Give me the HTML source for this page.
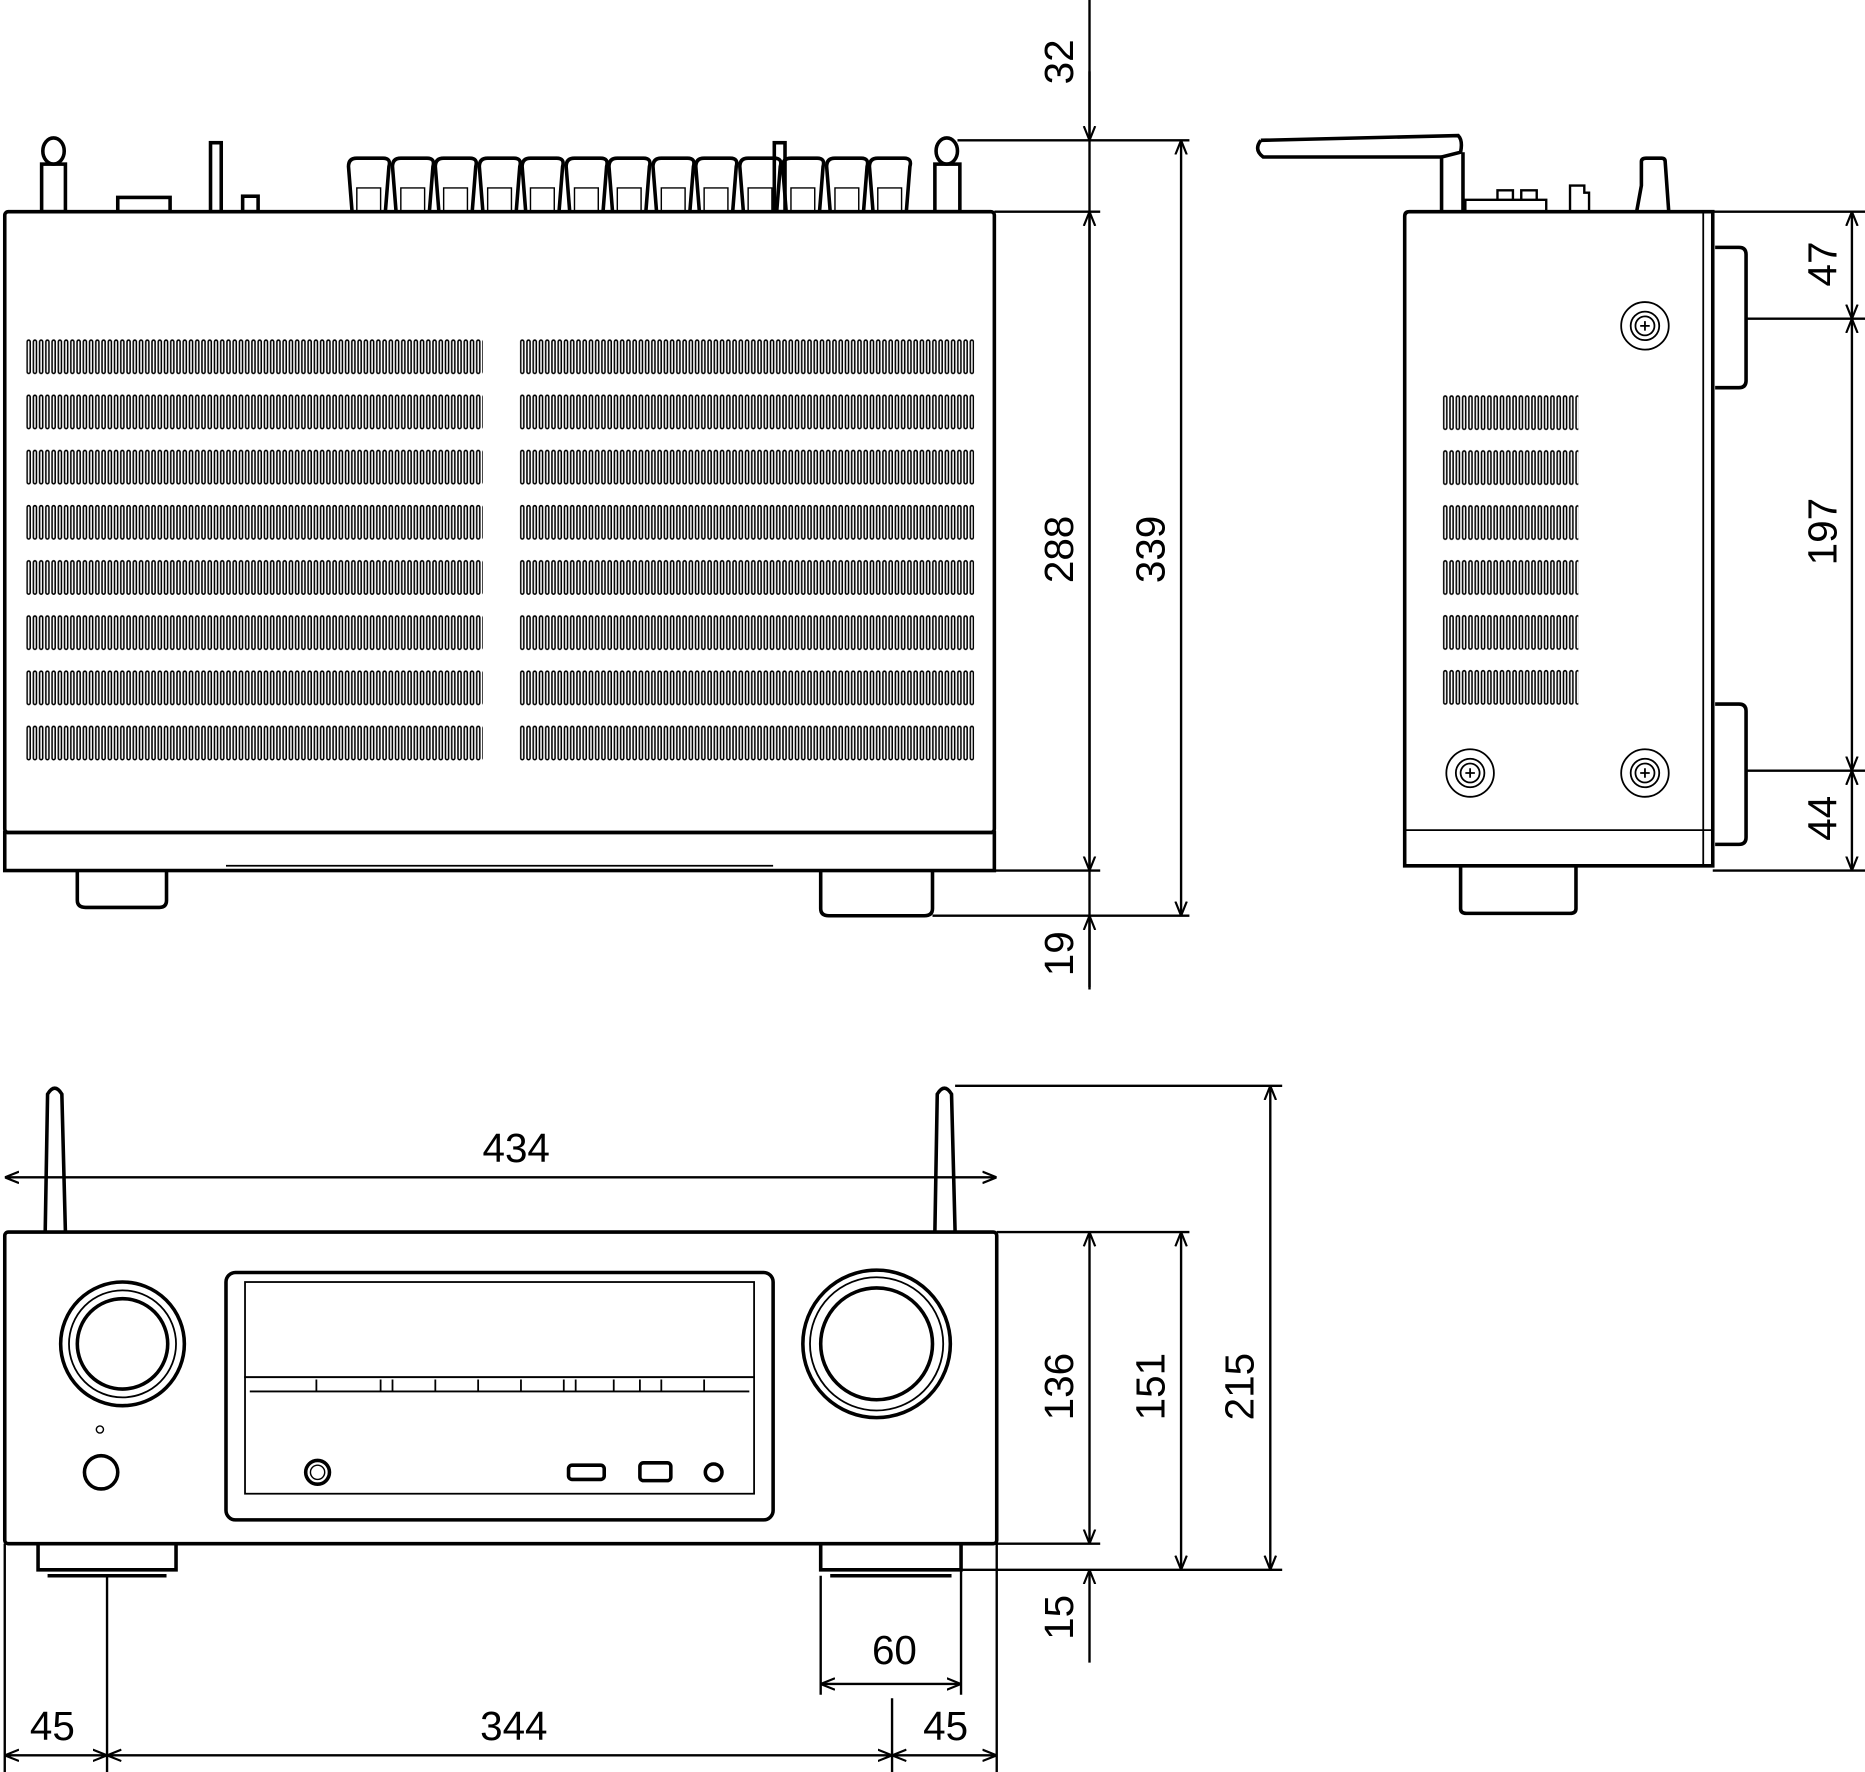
<!DOCTYPE html>
<html><head><meta charset="utf-8"><style>
html,body{margin:0;padding:0;background:#fff;}
svg{display:block;}
text{font-family:"Liberation Sans",sans-serif;font-size:34px;fill:#000;}
</style></head><body>
<svg width="1865" height="1772" viewBox="0 0 1568 1490" preserveAspectRatio="none" xmlns="http://www.w3.org/2000/svg">
<defs>
<marker id="a" viewBox="0 0 10 10" refX="10" refY="5" markerWidth="12" markerHeight="12" orient="auto-start-reverse" markerUnits="userSpaceOnUse"><path d="M0,1 L10,5 L0,9" fill="none" stroke="#000" stroke-width="1.5"/></marker>
<pattern id="vA" x="22" y="285" width="5.25" height="46.4" patternUnits="userSpaceOnUse"><rect x="0.8" y="1" width="2.6" height="28" rx="1.3" fill="none" stroke="#000" stroke-width="1.3"/></pattern>
<pattern id="vB" x="437" y="285" width="5.25" height="46.4" patternUnits="userSpaceOnUse"><rect x="0.8" y="1" width="2.6" height="28" rx="1.3" fill="none" stroke="#000" stroke-width="1.3"/></pattern>
<pattern id="vC" x="1213" y="332" width="5.3" height="46.2" patternUnits="userSpaceOnUse"><rect x="0.8" y="1" width="2.6" height="28" rx="1.3" fill="none" stroke="#000" stroke-width="1.3"/></pattern>
</defs>
<g fill="none" stroke="#000" stroke-width="3">
<!-- TOP VIEW -->
<rect x="4" y="178" width="832" height="522" rx="3"/>
<rect x="4" y="700" width="832" height="32"/>
<line x1="190" y1="728" x2="650" y2="728" stroke-width="1.5"/>
<path d="M65 732 V757 Q65 763 72 763 H134 Q140 763 140 757 V732"/>
<path d="M690 732 V764 Q690 770 697 770 H777 Q784 770 784 764 V732"/>
<ellipse cx="45" cy="127" rx="9" ry="11"/>
<rect x="35" y="138" width="20" height="40"/>
<rect x="99" y="166" width="44" height="12"/>
<rect x="177" y="120" width="9" height="58"/>
<rect x="204" y="165" width="13" height="13"/>
<g id="t"><path d="M296 178 L293 140 Q293 133 300 133 H322 Q329 133 327 140 L324 178"/><path d="M300 178 V158 H320 V178" stroke-width="1.2"/></g>
<use href="#t" x="37"/><use href="#t" x="73"/><use href="#t" x="110"/><use href="#t" x="146"/><use href="#t" x="183"/><use href="#t" x="219"/><use href="#t" x="256"/><use href="#t" x="292"/><use href="#t" x="329"/><use href="#t" x="365"/><use href="#t" x="402"/><use href="#t" x="438"/>
<rect x="651" y="120" width="9" height="58"/>
<ellipse cx="796" cy="127" rx="9" ry="11"/>
<rect x="786" y="138" width="21" height="40"/>
<line x1="805" y1="118" x2="1000" y2="118" stroke-width="2"/>
</g>
<rect x="22" y="285" width="384" height="360" fill="url(#vA)"/>
<rect x="437" y="285" width="382" height="360" fill="url(#vB)"/>
<rect x="1213" y="332" width="114" height="262" fill="url(#vC)"/>
<g fill="none" stroke="#000" stroke-width="2">
<line x1="916" y1="0" x2="916" y2="832"/>
<line x1="836" y1="178" x2="925" y2="178"/>
<line x1="836" y1="732" x2="925" y2="732"/>
<line x1="784" y1="770" x2="1000" y2="770"/>
<line x1="916" y1="60" x2="916" y2="118" marker-end="url(#a)"/>
<line x1="916" y1="178" x2="916" y2="732" marker-start="url(#a)" marker-end="url(#a)"/>
<line x1="916" y1="830" x2="916" y2="770" marker-end="url(#a)"/>
<line x1="993" y1="118" x2="993" y2="770" marker-start="url(#a)" marker-end="url(#a)"/>
</g>
<g fill="none" stroke="#000" stroke-width="3">
<!-- SIDE VIEW -->
<path d="M1181 728 V182 Q1181 178 1185 178 H1440 V728 Z"/>
<line x1="1432" y1="178" x2="1432" y2="728" stroke-width="1.5"/>
<line x1="1181" y1="698" x2="1440" y2="698" stroke-width="1.5"/>
<path d="M1228 728 V764 Q1228 768 1233 768 H1320 Q1325 768 1325 764 V728"/>
<path d="M1060 118 L1226 114 Q1230 118 1228 128 L1212 132 V178"/>
<path d="M1060 118 Q1054 126 1062 132 L1212 132"/>
<path d="M1230 128 V178"/>
<path d="M1232 178 V168 H1300 V178 M1259 168 V160 H1272 V168 M1279 168 V160 H1292 V168" stroke-width="2"/>
<path d="M1320 178 V156 H1332 V162 H1336 V178" stroke-width="2"/>
<path d="M1376 178 L1380 156 V136 Q1380 133 1384 133 H1397 Q1400 133 1400 136 L1403 178"/>
<path d="M1440 178 H1568" stroke-width="2"/>
<path d="M1442 208 H1462 Q1468 208 1468 214 V320 Q1468 326 1462 326 H1442"/>
<path d="M1442 592 H1462 Q1468 592 1468 598 V704 Q1468 710 1462 710 H1442"/>
<line x1="1468" y1="268" x2="1568" y2="268" stroke-width="2"/>
<line x1="1468" y1="648" x2="1568" y2="648" stroke-width="2"/>
<line x1="1440" y1="732" x2="1568" y2="732" stroke-width="2"/>
</g>
<g fill="none" stroke="#000" stroke-width="1.5">
<g id="sc"><circle cx="1383" cy="274" r="20"/><circle cx="1383" cy="274" r="12"/><circle cx="1383" cy="274" r="8"/><path d="M1379 274 H1387 M1383 270 V278"/></g>
<use href="#sc" x="-147" y="376"/><use href="#sc" x="0" y="376"/>
</g>
<g fill="none" stroke="#000" stroke-width="2">
<line x1="1557" y1="178" x2="1557" y2="268" marker-start="url(#a)" marker-end="url(#a)"/>
<line x1="1557" y1="268" x2="1557" y2="648" marker-start="url(#a)" marker-end="url(#a)"/>
<line x1="1557" y1="648" x2="1557" y2="732" marker-start="url(#a)" marker-end="url(#a)"/>
</g>
<g fill="none" stroke="#000" stroke-width="3">
<!-- FRONT VIEW -->
<rect x="4" y="1036" width="834" height="262" rx="3"/>
<path d="M38 1036 L40 920 Q46 910 52 920 L55 1036"/>
<path d="M786 1036 L788 920 Q794 910 800 920 L803 1036"/>
<rect x="190" y="1070" width="460" height="208" rx="8"/>
<rect x="206" y="1078" width="428" height="80" stroke-width="1.5"/>
<rect x="206" y="1158" width="428" height="98" stroke-width="1.5"/>
<line x1="210" y1="1170" x2="630" y2="1170" stroke-width="1.5"/>
<path d="M266 1160 V1170 M320 1160 V1170 M330 1160 V1170 M366 1160 V1170 M402 1160 V1170 M438 1160 V1170 M474 1160 V1170 M484 1160 V1170 M516 1160 V1170 M538 1160 V1170 M556 1160 V1170 M592 1160 V1170" stroke-width="1.5"/>
<circle cx="103" cy="1130" r="52"/><circle cx="103" cy="1130" r="45" stroke-width="1.5"/><circle cx="103" cy="1130" r="38"/>
<circle cx="737" cy="1130" r="62"/><circle cx="737" cy="1130" r="56" stroke-width="1.5"/><circle cx="737" cy="1130" r="47"/>
<circle cx="84" cy="1202" r="3" stroke-width="1.2"/>
<circle cx="85" cy="1238" r="14"/>
<circle cx="267" cy="1238" r="10"/><circle cx="267" cy="1238" r="6" stroke-width="1.2"/>
<rect x="478" y="1232" width="30" height="12" rx="3"/>
<rect x="538" y="1230" width="26" height="15" rx="3"/>
<circle cx="600" cy="1238" r="7"/>
<path d="M32 1298 V1320 H148 V1298 M40 1325 H140"/>
<path d="M690 1298 V1320 H808 V1298 M698 1325 H800"/>
</g>
<g fill="none" stroke="#000" stroke-width="2">
<line x1="4" y1="990" x2="838" y2="990" marker-start="url(#a)" marker-end="url(#a)"/>
<line x1="803" y1="913" x2="1078" y2="913"/>
<line x1="838" y1="1036" x2="1000" y2="1036"/>
<line x1="808" y1="1298" x2="925" y2="1298"/>
<line x1="808" y1="1320" x2="1078" y2="1320"/>
<line x1="916" y1="1036" x2="916" y2="1298" marker-start="url(#a)" marker-end="url(#a)"/>
<line x1="916" y1="1398" x2="916" y2="1320" marker-end="url(#a)"/>
<line x1="993" y1="1036" x2="993" y2="1320" marker-start="url(#a)" marker-end="url(#a)"/>
<line x1="1068" y1="913" x2="1068" y2="1320" marker-start="url(#a)" marker-end="url(#a)"/>
<line x1="4" y1="1298" x2="4" y2="1490"/>
<line x1="838" y1="1036" x2="838" y2="1490"/>
<line x1="90" y1="1325" x2="90" y2="1490"/>
<line x1="750" y1="1428" x2="750" y2="1490"/>
<line x1="690" y1="1325" x2="690" y2="1425"/>
<line x1="808" y1="1320" x2="808" y2="1425"/>
<line x1="690" y1="1416" x2="808" y2="1416" marker-start="url(#a)" marker-end="url(#a)"/>
<line x1="4" y1="1476" x2="90" y2="1476" marker-start="url(#a)" marker-end="url(#a)"/>
<line x1="90" y1="1476" x2="750" y2="1476" marker-start="url(#a)" marker-end="url(#a)"/>
<line x1="750" y1="1476" x2="838" y2="1476" marker-start="url(#a)" marker-end="url(#a)"/>
</g>
<text transform="translate(902,52) rotate(-90)" text-anchor="middle">32</text>
<text transform="translate(902,462) rotate(-90)" text-anchor="middle">288</text>
<text transform="translate(979,462) rotate(-90)" text-anchor="middle">339</text>
<text transform="translate(902,802) rotate(-90)" text-anchor="middle">19</text>
<text transform="translate(1544,222) rotate(-90)" text-anchor="middle">47</text>
<text transform="translate(1544,447) rotate(-90)" text-anchor="middle">197</text>
<text transform="translate(1544,688) rotate(-90)" text-anchor="middle">44</text>
<text x="434" y="977" text-anchor="middle">434</text>
<text transform="translate(902,1166) rotate(-90)" text-anchor="middle">136</text>
<text transform="translate(979,1166) rotate(-90)" text-anchor="middle">151</text>
<text transform="translate(1054,1166) rotate(-90)" text-anchor="middle">215</text>
<text transform="translate(902,1360) rotate(-90)" text-anchor="middle">15</text>
<text x="752" y="1399" text-anchor="middle">60</text>
<text x="44" y="1463" text-anchor="middle">45</text>
<text x="432" y="1463" text-anchor="middle">344</text>
<text x="795" y="1463" text-anchor="middle">45</text>
</svg>
</body></html>
